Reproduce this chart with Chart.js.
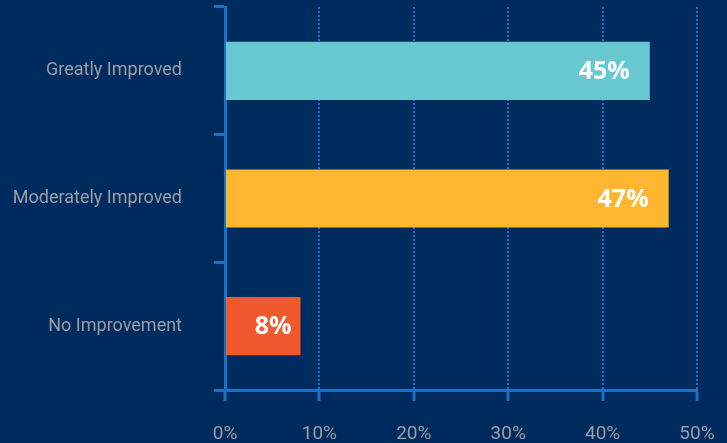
<!DOCTYPE html>
<html>
<head>
<meta charset="utf-8">
<script src="https://cdn.jsdelivr.net/npm/chart.js@4.4.1/dist/chart.umd.min.js"></script>
<style>
  html, body { margin: 0; padding: 0; background: #002b5e; }
  canvas { display: block; }
</style>
</head>
<body>
<canvas id="myChart" width="727" height="443"></canvas>
<script>
const categories = ['Greatly Improved', 'Moderately Improved', 'No Improvement'];
const percentages = [45, 47, 8];
const barColors = ['#68c8cf', '#fdb62d', '#f0592e'];
const axisTicks = [0, 10, 20, 30, 40, 50];

const lineBlue = '#1a72c6';
const labelGrey = '#9a9ea6';

// writes the percentage inside the end of each bar
const valueLabels = {
    id: 'valueLabels',
    afterDatasetsDraw(chart) {
        const ctx = chart.ctx;
        const meta = chart.getDatasetMeta(0);
        ctx.save();
        ctx.font = 'bold 25px "Open Sans", sans-serif';
        ctx.fillStyle = '#ffffff';
        ctx.textAlign = 'right';
        ctx.textBaseline = 'middle';
        meta.data.forEach((bar, i) => {
            const width = bar.x - bar.base;
            const pad = width < 100 ? 9 : 20;
            ctx.fillText(percentages[i] + '%', bar.x - pad, bar.y + 1);
        });
        ctx.restore();
    }
};

// fixed axis sizes, no automatic edge padding
function fixSize(prop, size) {
    return scale => {
        scale[prop] = size;
        scale.paddingTop = 0;
        scale.paddingBottom = 0;
        scale.paddingLeft = 0;
        scale.paddingRight = 0;
    };
}

var ctx = document.getElementById('myChart').getContext('2d');
var myChart = new Chart(ctx, {
    type: 'bar',
    data: {
        labels: categories,
        datasets: [{
            data: percentages,
            backgroundColor: barColors,
            borderWidth: 0,
            barPercentage: 0.455,
            categoryPercentage: 1
        }]
    },
    options: {
        indexAxis: 'y',
        responsive: false,
        animation: false,
        layout: { padding: { top: 7, right: 30, left: 0, bottom: 0 } },
        plugins: {
            legend: { display: false },
            tooltip: { enabled: false }
        },
        scales: {
            x: {
                min: 0,
                max: 50,
                afterBuildTicks: axis => { axis.ticks = axisTicks.map(v => ({ value: v })); },
                afterFit: fixSize('height', 53),
                grid: {
                    color: lineBlue,
                    lineWidth: 2,
                    tickLength: 11,
                    tickWidth: 3,
                    tickColor: lineBlue
                },
                border: { display: true, color: lineBlue, width: 3, dash: [2, 2] },
                ticks: {
                    color: labelGrey,
                    padding: 22,
                    font: { family: 'Roboto', size: 19 },
                    callback: v => v + '%'
                }
            },
            y: {
                afterFit: fixSize('width', 225),
                grid: {
                    drawOnChartArea: false,
                    color: lineBlue,
                    tickLength: 11,
                    tickWidth: 3,
                    tickColor: lineBlue
                },
                border: { display: true, color: lineBlue, width: 3 },
                ticks: {
                    color: labelGrey,
                    padding: 32,
                    font: { family: 'Roboto', size: 18 }
                }
            }
        }
    },
    plugins: [valueLabels]
});
</script>
</body>
</html>
